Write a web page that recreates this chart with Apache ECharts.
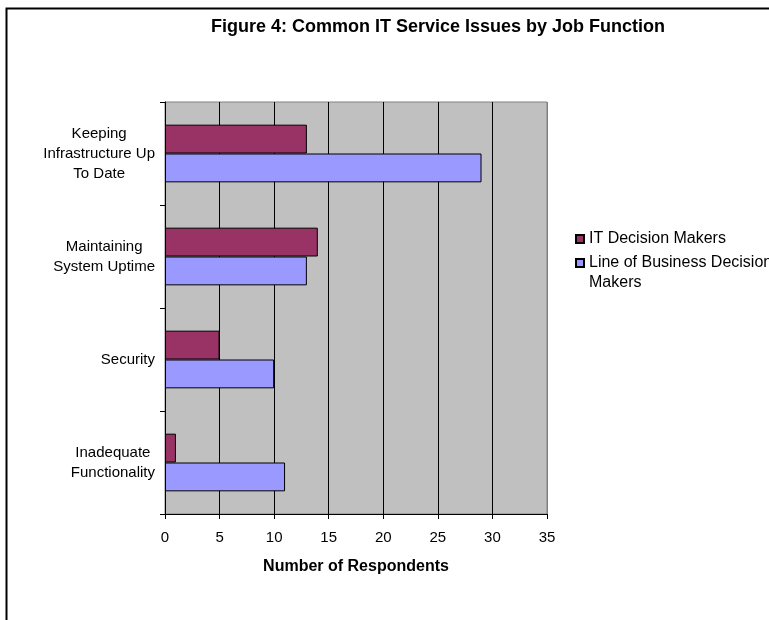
<!DOCTYPE html>
<html>
<head>
<meta charset="utf-8">
<script src="https://cdn.jsdelivr.net/npm/echarts@6/dist/echarts.min.js"></script>
<style>
html,body{margin:0;padding:0;background:#fff;}
#chart{width:769px;height:620px;}
</style>
</head>
<body>
<div id="chart"></div>
<script>
// ---- data ----
const titleText = 'Figure 4: Common IT Service Issues by Job Function';
const categories = [
  'Keeping\nInfrastructure Up\nTo Date',
  'Maintaining\nSystem Uptime',
  'Security',
  'Inadequate\nFunctionality'
];
const seriesNames = ['IT Decision Makers', 'Line of Business Decision Makers'];
const itDecisionMakers = [13, 14, 5, 1];
const lobDecisionMakers = [29, 13, 10, 11];
const xAxisTitle = 'Number of Respondents';
const xMin = 0, xMax = 35, xStep = 5;

// ---- chart ----
const FONT = '"Liberation Sans", Arial, sans-serif';
const chart = echarts.init(document.getElementById('chart'), null, {renderer: 'canvas'});

const option = {
  backgroundColor: '#ffffff',
  animation: false,
  title: {
    text: titleText,
    left: 433,
    top: 13,
    textAlign: 'center',
    textStyle: {fontFamily: FONT, fontSize: 18, fontWeight: 'bold', color: '#000'}
  },
  graphic: [{
    type: 'rect',
    shape: {x: 6.5, y: 8.5, width: 1200, height: 1200},
    style: {fill: 'none', stroke: '#000', lineWidth: 2},
    silent: true,
    z: 100
  }],
  legend: [{
    data: [seriesNames[0]],
    orient: 'vertical',
    left: 570,
    top: 224,
    itemWidth: 8,
    itemHeight: 8,
    icon: 'rect',
    itemGap: 0,
    textStyle: {fontFamily: FONT, fontSize: 16, color: '#000', lineHeight: 20}
  }, {
    data: [seriesNames[1]],
    orient: 'vertical',
    left: 570,
    top: 228,
    itemWidth: 8,
    itemHeight: 8,
    icon: 'rect',
    itemGap: 0,
    formatter: function (n) { return ' \n' + n.replace(' Makers', '\nMakers'); },
    textStyle: {fontFamily: FONT, fontSize: 16, color: '#000', lineHeight: 20}
  }],
  grid: {
    left: 165, right: 222, top: 102, bottom: 106,
    show: true,
    backgroundColor: '#C0C0C0',
    borderColor: '#808080',
    borderWidth: 1
  },
  xAxis: {
    type: 'value',
    min: xMin, max: xMax, interval: xStep,
    name: xAxisTitle,
    nameLocation: 'middle',
    nameGap: 45,
    nameTextStyle: {fontFamily: FONT, fontSize: 16, fontWeight: 'bold', color: '#000'},
    axisLine: {show: true, lineStyle: {color: '#000', width: 1}},
    axisTick: {show: true, length: 5, lineStyle: {color: '#000'}},
    axisLabel: {fontFamily: FONT, fontSize: 15, color: '#000', margin: 16},
    splitLine: {show: true, lineStyle: {color: ['#000','#000','#000','#000','#000','#000','#000','#808080'], width: 1}}
  },
  yAxis: {
    type: 'category',
    data: categories,
    inverse: true,
    axisLine: {show: true, lineStyle: {color: '#000', width: 1}},
    axisTick: {show: true, length: 5, lineStyle: {color: '#000'}},
    axisLabel: {
      fontFamily: FONT, fontSize: 15, color: '#000', margin: 10,
      align: 'right',
      lineHeight: 20,
      formatter: function (v) {
        return v.split('\n').map(function (l) { return '{c|' + l + '}'; }).join('\n');
      },
      rich: {c: {align: 'center', fontFamily: FONT, fontSize: 15, lineHeight: 20, color: '#000'}}
    },
    splitLine: {show: false}
  },
  series: [{
    name: seriesNames[0],
    type: 'bar',
    data: itDecisionMakers,
    barGap: '0%',
    barCategoryGap: '44%',
    itemStyle: {color: '#993366', borderColor: '#000', borderWidth: 1}
  }, {
    name: seriesNames[1],
    type: 'bar',
    data: lobDecisionMakers,
    barGap: '0%',
    barCategoryGap: '44%',
    itemStyle: {color: '#9999FF', borderColor: '#000', borderWidth: 1}
  }]
};
chart.setOption(option);
</script>
</body>
</html>
